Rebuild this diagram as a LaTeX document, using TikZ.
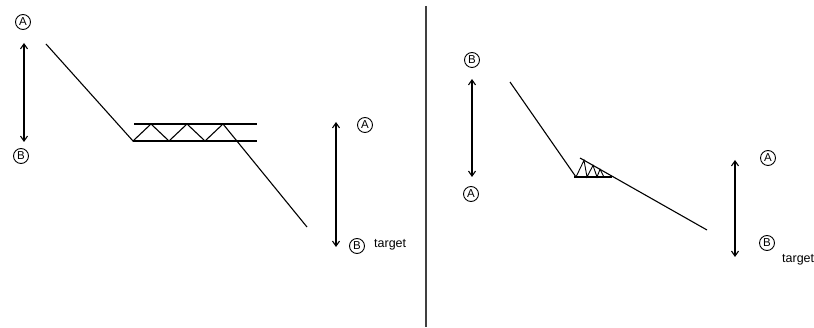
\documentclass[tikz,border=0pt]{standalone}
\usepackage{fontspec}
\setmainfont{Liberation Sans}
\usetikzlibrary{arrows.meta}
\begin{document}
\begin{tikzpicture}[x=1pt,y=-1pt,
  lbl/.style={draw,circle,line width=0.9pt,minimum size=15pt,inner sep=0pt,font=\fontsize{11.5}{11.5}\selectfont},
  ln/.style={line width=1.1pt,line join=miter},
  dbl/.style={line width=1.1pt,{Straight Barb[length=5pt,width=7pt]}-{Straight Barb[length=5pt,width=7pt]}},
  txt/.style={font=\fontsize{12.5}{12.5}\selectfont,inner sep=0pt,anchor=west},
  divider/.style={line width=1.4pt,draw=black!75}]
\useasboundingbox (0,0) rectangle (814,328);
% ---------- left panel ----------
\node[lbl] (LA1) at (23,22) {A};
\node[lbl] (LB1) at (21,156) {B};
\coordinate (a1t) at (24,43);
\coordinate (a1b) at (24,142);
\draw[dbl] (a1t) -- (a1b);
\coordinate (l0) at (46,44);
\coordinate (l1) at (133,141);
\coordinate (l2) at (151,124);
\coordinate (l3) at (169,141);
\coordinate (l4) at (187,124);
\coordinate (l5) at (205,141);
\coordinate (l6) at (223,124);
\coordinate (l7) at (307,227);
\draw[ln] (l0) -- (l1) -- (l2) -- (l3) -- (l4) -- (l5) -- (l6) -- (l7);
\coordinate (rt0) at (134,124);
\coordinate (rt1) at (257,124);
\coordinate (rb0) at (133,141);
\coordinate (rb1) at (257,141);
\draw[ln] (rt0) -- (rt1);
\draw[ln] (rb0) -- (rb1);
\coordinate (a2t) at (336,122);
\coordinate (a2b) at (336,247);
\draw[dbl] (a2t) -- (a2b);
\node[lbl] (LA2) at (365,125) {A};
\node[lbl] (LB2) at (357,246) {B};
\node[txt] (LT) at (374,245) {target};
% ---------- divider ----------
\coordinate (d0) at (426,6);
\coordinate (d1) at (426,327);
\draw[divider] (d0) -- (d1);
% ---------- right panel ----------
\node[lbl] (RB1) at (472,60) {B};
\node[lbl] (RA1) at (471,194) {A};
\coordinate (b1t) at (472,79);
\coordinate (b1b) at (472,177);
\draw[dbl] (b1t) -- (b1b);
\coordinate (s0) at (510,82);
\coordinate (s1) at (576,177);
\draw[ln] (s0) -- (s1);
\coordinate (base0) at (574,177);
\coordinate (base1) at (612,177);
\draw[ln] (base0) -- (base1);
\coordinate (tp0) at (580,158);
\coordinate (tp1) at (707,230);
\draw[ln] (tp0) -- (tp1);
\coordinate (z1) at (584,160.3);
\coordinate (z2) at (587,177);
\coordinate (z3) at (593,165.4);
\coordinate (z4) at (597,177);
\coordinate (z5) at (600,169.3);
\coordinate (z6) at (604,177);
\draw[line width=0.9pt] (s1) -- (z1) -- (z2) -- (z3) -- (z4) -- (z5) -- (z6);
\coordinate (b2t) at (735,160);
\coordinate (b2b) at (735,257);
\draw[dbl] (b2t) -- (b2b);
\node[lbl] (RA2) at (768,158) {A};
\node[lbl] (RB2) at (767,243) {B};
\node[txt] (RT) at (782,260) {target};
\end{tikzpicture}
\end{document}
